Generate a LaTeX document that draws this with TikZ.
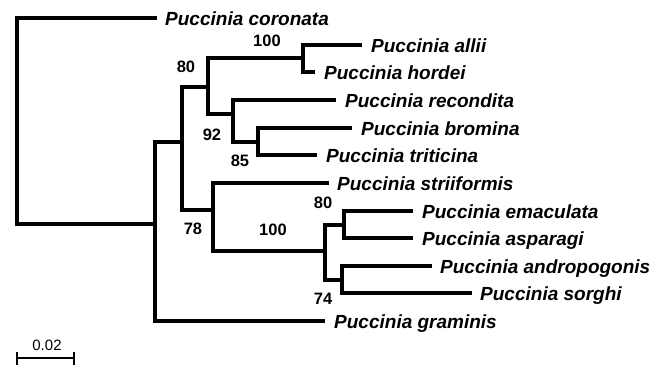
\documentclass[tikz,border=0pt]{standalone}
\usepackage{fontspec}
\setmainfont{Liberation Sans}
\usetikzlibrary{positioning}

\begin{document}
\begin{tikzpicture}[x=1pt,y=-1pt,
  branch/.style={line width=4pt},
  taxon/.style={inner sep=0pt,text height=13.6pt,text depth=0pt,yshift=-1pt,
    font=\fontsize{19}{21}\selectfont\bfseries\itshape},
  boot/.style={inner sep=0pt,text height=12pt,text depth=0pt,
    font=\fontsize{16.5}{18}\selectfont\bfseries}]
  \useasboundingbox (0,0) rectangle (667,368);

  % inner nodes
  \coordinate (r) at (17,121);
  \coordinate (A) at (155,224);
  \coordinate (B) at (182,142);
  \coordinate (G) at (208,87);
  \coordinate (H) at (303,58);
  \coordinate (I) at (233,114);
  \coordinate (J) at (258,142);
  \coordinate (C) at (213,210);
  \coordinate (D) at (325,251);
  \coordinate (E) at (344,225);
  \coordinate (F) at (342,280);

  % tips
  \coordinate (cor) at (157,18);
  \coordinate (all) at (362,45);
  \coordinate (hor) at (315,72);
  \coordinate (rec) at (336,100);
  \coordinate (bro) at (352,128);
  \coordinate (tri) at (317,155);
  \coordinate (str) at (329,183);
  \coordinate (ema) at (413,211);
  \coordinate (asp) at (413,238);
  \coordinate (and) at (432,266);
  \coordinate (sor) at (472,293);
  \coordinate (gra) at (325,321);

  \draw[branch] (r) |- (cor);
  \draw[branch] (r) |- (A);
  \draw[branch] (A) |- (B);
  \draw[branch] (A) |- (gra);
  \draw[branch] (B) |- (G);
  \draw[branch] (B) |- (C);
  \draw[branch] (G) |- (H);
  \draw[branch] (G) |- (I);
  \draw[branch] (H) |- (all);
  \draw[branch] (H) |- (hor);
  \draw[branch] (I) |- (rec);
  \draw[branch] (I) |- (J);
  \draw[branch] (J) |- (bro);
  \draw[branch] (J) |- (tri);
  \draw[branch] (C) |- (str);
  \draw[branch] (C) |- (D);
  \draw[branch] (D) |- (E);
  \draw[branch] (D) |- (F);
  \draw[branch] (E) |- (ema);
  \draw[branch] (E) |- (asp);
  \draw[branch] (F) |- (and);
  \draw[branch] (F) |- (sor);

  \node[taxon,right=8pt of cor] (cor-l) {Puccinia coronata};
  \node[taxon,right=9pt of all] (all-l) {Puccinia allii};
  \node[taxon,right=9pt of hor] (hor-l) {Puccinia hordei};
  \node[taxon,right=9pt of rec] (rec-l) {Puccinia recondita};
  \node[taxon,right=9pt of bro] (bro-l) {Puccinia bromina};
  \node[taxon,right=9pt of tri] (tri-l) {Puccinia triticina};
  \node[taxon,right=8pt of str] (str-l) {Puccinia striiformis};
  \node[taxon,right=9pt of ema] (ema-l) {Puccinia emaculata};
  \node[taxon,right=9pt of asp] (asp-l) {Puccinia asparagi};
  \node[taxon,right=8pt of and] (and-l) {Puccinia andropogonis};
  \node[taxon,right=8pt of sor] (sor-l) {Puccinia sorghi};
  \node[taxon,right=9pt of gra] (gra-l) {Puccinia graminis};

  \node[boot] (bH) at (267,40) {100};
  \node[boot] (bG) at (186,66) {80};
  \node[boot] (bI) at (212,134) {92};
  \node[boot] (bJ) at (240,160) {85};
  \node[boot] (bC) at (193,228) {78};
  \node[boot] (bD) at (273,229) {100};
  \node[boot] (bE) at (323,202) {80};
  \node[boot] (bF) at (323,298) {74};

  % scale bar
  \coordinate (sbl) at (17,358);
  \coordinate (sbr) at (74,358);
  \draw[line width=2pt] (sbl) -- (sbr);
  \draw[line width=2pt] ([yshift=6pt]sbl) -- ([yshift=-7pt]sbl);
  \draw[line width=2pt] ([yshift=6pt]sbr) -- ([yshift=-7pt]sbr);
  \node[inner sep=0pt,font=\fontsize{15}{17}\selectfont] (sb-l) at (47,345) {0.02};
\end{tikzpicture}
\end{document}
